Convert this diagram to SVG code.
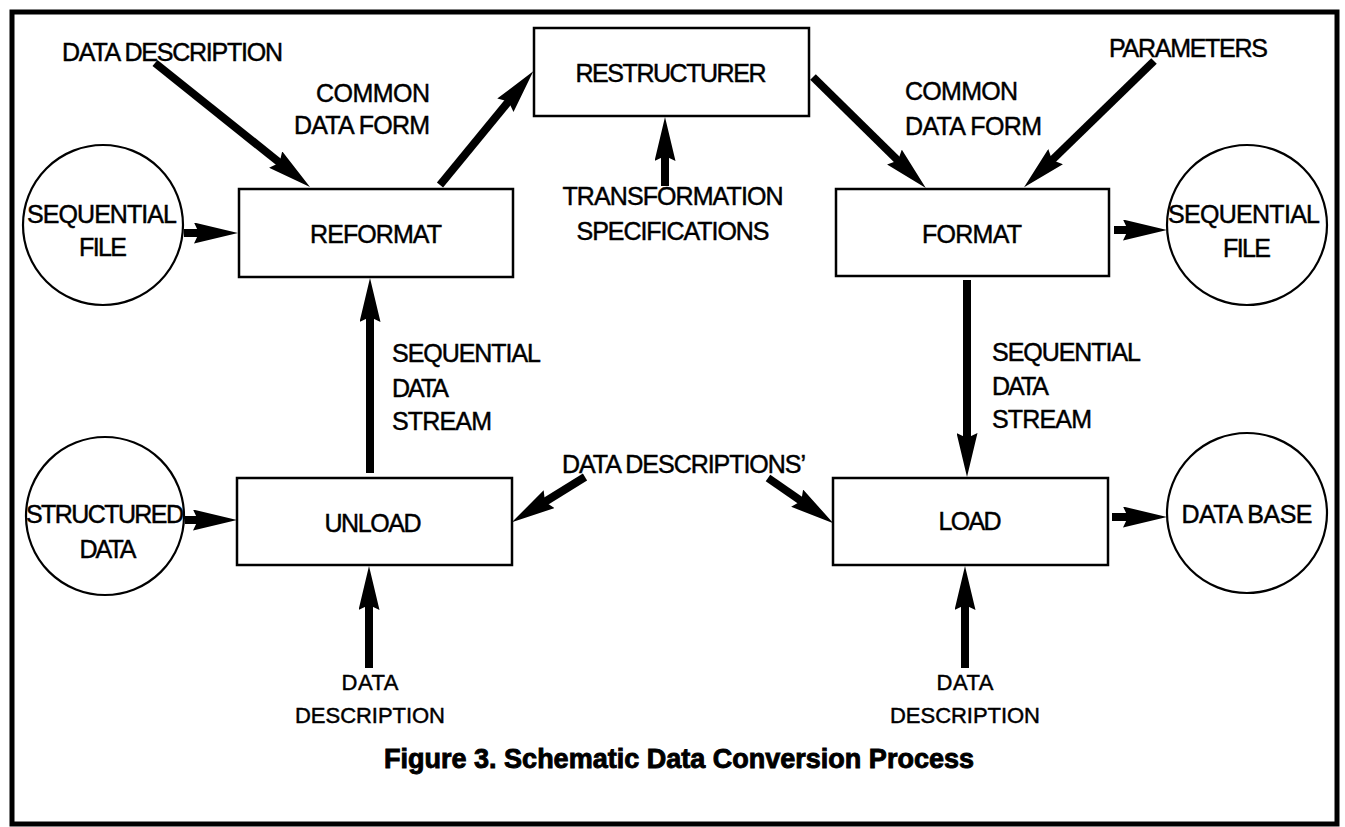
<svg xmlns="http://www.w3.org/2000/svg" width="1345" height="827" viewBox="0 0 1345 827">
  <style>
    .box { fill: #fff; stroke: #000; stroke-width: 2.5; }
    .store { fill: #fff; stroke: #000; stroke-width: 2.2; }
    .lbl { font-family: "Liberation Sans", Arial, Helvetica, sans-serif; font-size: 25px; fill: #000; stroke: #000; stroke-width: 0.45; }
    .sm { font-size: 22px; }
    .mid { text-anchor: middle; }
    .end { text-anchor: end; }
    .flow { stroke: #000; stroke-width: 8; fill: none; marker-end: url(#head); }
    .cap { font-family: "Liberation Sans", Arial, Helvetica, sans-serif; font-size: 27px; font-weight: bold; fill: #000; stroke: #000; stroke-width: 0.9; }
  </style>
  <defs>
    <marker id="head" markerUnits="userSpaceOnUse" viewBox="0 0 44 21" refX="12" refY="10.5" markerWidth="44" markerHeight="21" orient="auto">
      <path d="M0,0 L44,10.5 L0,21 L5,10.5 Z" fill="#000"/>
    </marker>
  </defs>

  <rect width="1345" height="827" fill="#fff"/>
  <!-- frame -->
  <rect x="12" y="12" width="1325" height="812" fill="none" stroke="#000" stroke-width="5"/>

  <!-- connectors -->
  <g id="connectors">
    <line class="flow" x1="155" y1="63" x2="285" y2="167"/>
    <line class="flow" x1="440" y1="185" x2="513" y2="96"/>
    <line class="flow" x1="813" y1="77" x2="903" y2="165.5"/>
    <line class="flow" x1="1154" y1="61" x2="1047" y2="165"/>
    <line class="flow" x1="665" y1="186" x2="665" y2="149"/>
    <line class="flow" x1="184" y1="233" x2="206" y2="233"/>
    <line class="flow" x1="1114" y1="230" x2="1135" y2="230"/>
    <line class="flow" x1="370" y1="473" x2="370" y2="310"/>
    <line class="flow" x1="967" y1="280" x2="967" y2="445"/>
    <line class="flow" x1="185" y1="520" x2="205" y2="520"/>
    <line class="flow" x1="1112" y1="517" x2="1135" y2="517"/>
    <line class="flow" x1="585" y1="477" x2="539" y2="505.5"/>
    <line class="flow" x1="768" y1="478" x2="807" y2="505"/>
    <line class="flow" x1="369" y1="668" x2="369" y2="598"/>
    <line class="flow" x1="965" y1="668" x2="965" y2="598"/>
  </g>

  <!-- process boxes -->
  <g id="reformat">
    <rect class="box" x="239" y="189" width="274" height="88"/>
    <text class="lbl mid" x="376" y="243" textLength="132">REFORMAT</text>
  </g>
  <g id="restructurer">
    <rect class="box" x="534" y="28" width="275" height="88"/>
    <text class="lbl mid" x="671" y="82" textLength="191">RESTRUCTURER</text>
  </g>
  <g id="format">
    <rect class="box" x="836" y="189" width="273" height="87"/>
    <text class="lbl mid" x="972" y="243" textLength="100">FORMAT</text>
  </g>
  <g id="unload">
    <rect class="box" x="237" y="478" width="275" height="87"/>
    <text class="lbl mid" x="373" y="532" textLength="97">UNLOAD</text>
  </g>
  <g id="load">
    <rect class="box" x="833" y="478" width="275" height="87"/>
    <text class="lbl mid" x="970" y="530" textLength="63">LOAD</text>
  </g>

  <!-- data stores -->
  <g id="seq-file-in">
    <circle class="store" cx="103" cy="225" r="80"/>
    <text class="lbl mid" x="102" y="223" textLength="150">SEQUENTIAL</text>
    <text class="lbl mid" x="103" y="256" textLength="48">FILE</text>
  </g>
  <g id="seq-file-out">
    <circle class="store" cx="1247" cy="225" r="80"/>
    <text class="lbl mid" x="1244" y="223" textLength="152">SEQUENTIAL</text>
    <text class="lbl mid" x="1247" y="257" textLength="48">FILE</text>
  </g>
  <g id="structured-data">
    <circle class="store" cx="105" cy="516" r="79"/>
    <text class="lbl mid" x="105" y="523" textLength="158">STRUCTURED</text>
    <text class="lbl mid" x="108" y="558" textLength="57">DATA</text>
  </g>
  <g id="data-base">
    <circle class="store" cx="1247" cy="513" r="80"/>
    <text class="lbl mid" x="1247" y="523" textLength="131">DATA BASE</text>
  </g>

  <!-- flow labels -->
  <g id="labels">
    <text class="lbl" x="62" y="61" textLength="221">DATA DESCRIPTION</text>
    <text class="lbl end" x="430" y="102" textLength="114">COMMON</text>
    <text class="lbl end" x="430" y="134" textLength="136">DATA FORM</text>
    <text class="lbl mid" x="673" y="205" textLength="221">TRANSFORMATION</text>
    <text class="lbl mid" x="673" y="240" textLength="193">SPECIFICATIONS</text>
    <text class="lbl" x="905" y="100" textLength="113">COMMON</text>
    <text class="lbl" x="905" y="135" textLength="137">DATA FORM</text>
    <text class="lbl" x="1109" y="57" textLength="159">PARAMETERS</text>
    <text class="lbl" x="392" y="362" textLength="149">SEQUENTIAL</text>
    <text class="lbl" x="392" y="397" textLength="57">DATA</text>
    <text class="lbl" x="392" y="430" textLength="100">STREAM</text>
    <text class="lbl" x="992" y="361" textLength="149">SEQUENTIAL</text>
    <text class="lbl" x="992" y="395" textLength="57">DATA</text>
    <text class="lbl" x="992" y="428" textLength="100">STREAM</text>
    <text class="lbl" x="562" y="473" textLength="244">DATA DESCRIPTIONS’</text>
    <text class="lbl sm mid" x="370" y="690" textLength="57">DATA</text>
    <text class="lbl sm mid" x="370" y="723" textLength="150">DESCRIPTION</text>
    <text class="lbl sm mid" x="965" y="690" textLength="57">DATA</text>
    <text class="lbl sm mid" x="965" y="723" textLength="150">DESCRIPTION</text>
  </g>

  <text class="cap mid" x="679" y="768" textLength="590">Figure 3. Schematic Data Conversion Process</text>
</svg>
